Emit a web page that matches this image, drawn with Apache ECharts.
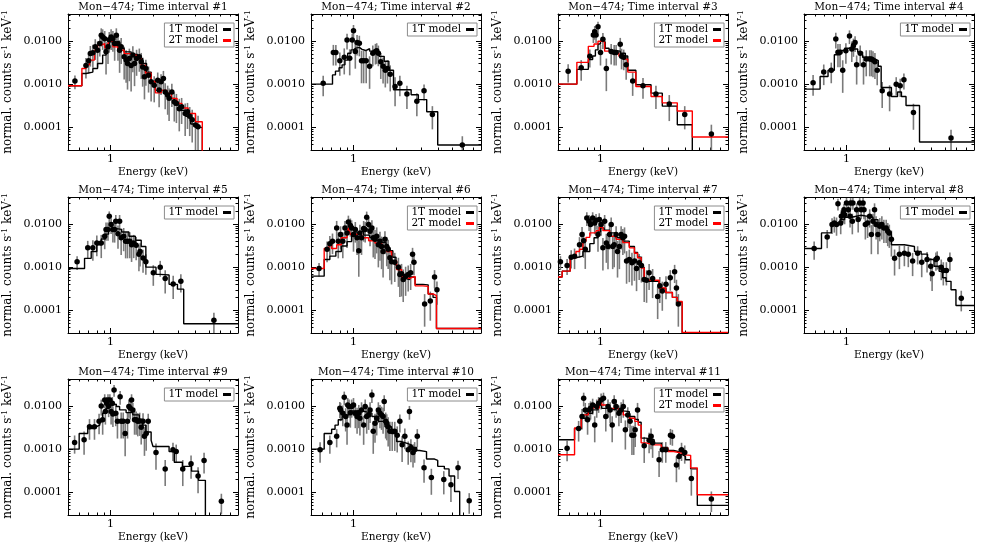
<!DOCTYPE html>
<html><head><meta charset="utf-8">
<script src="https://cdn.jsdelivr.net/npm/echarts@6.0.0/dist/echarts.min.js"></script>
<style>html,body{margin:0;padding:0;background:#fff}#c{width:981px;height:545px}</style>
</head><body><div id="c"></div>
<script>
// ---------- DATA: [energy keV, normalized counts, relative error] ----------
const TITLES = ['Mon\u2212474; Time interval #1','Mon\u2212474; Time interval #2','Mon\u2212474; Time interval #3','Mon\u2212474; Time interval #4','Mon\u2212474; Time interval #5','Mon\u2212474; Time interval #6','Mon\u2212474; Time interval #7','Mon\u2212474; Time interval #8','Mon\u2212474; Time interval #9','Mon\u2212474; Time interval #10','Mon\u2212474; Time interval #11'];
const LEGEND_NAMES = ['1T model','2T model'];
const X_LABELS = [1];
const X_MAJOR = [1];
const X_MINOR = [0.6,0.7,0.8,0.9,2,3,4,5,6,7];
const Y_LABELS = [0.0001,0.001,0.01];
const Y_MINOR = [0.00004,0.00005,0.00006,0.00007,0.00008,0.00009,0.0002,0.0003,0.0004,0.0005,0.0006,0.0007,0.0008,0.0009,0.002,0.003,0.004,0.005,0.006,0.007,0.008,0.009,0.02,0.03,0.04];

const P1_DATA = [[0.56,0.00118,0.35],[0.67,0.0027,0.5],[0.70,0.0035,0.5],[0.72,0.0051,0.5],[0.75,0.0053,0.55],[0.78,0.0073,0.5],[0.81,0.0061,0.6],[0.84,0.0087,0.5],[0.86,0.0135,0.45],[0.88,0.0124,0.5],[0.91,0.0113,0.5],[0.93,0.0056,0.7],[0.96,0.0073,0.6],[0.98,0.0107,0.5],[1.01,0.0124,0.5],[1.04,0.0113,0.5],[1.07,0.0087,0.6],[1.10,0.0135,0.45],[1.13,0.0087,0.6],[1.16,0.0061,0.7],[1.19,0.0073,0.6],[1.25,0.0043,0.7],[1.29,0.0036,0.7],[1.32,0.0030,0.75],[1.36,0.0039,0.7],[1.40,0.0027,0.75],[1.44,0.0047,0.6],[1.48,0.0030,0.7],[1.53,0.0039,0.6],[1.60,0.0043,0.55],[1.65,0.0033,0.6],[1.69,0.0025,0.65],[1.74,0.00148,0.7],[1.78,0.0023,0.6],[1.86,0.0016,0.6],[1.94,0.00113,0.65],[2.04,0.00095,0.6],[2.16,0.00124,0.5],[2.21,0.00073,0.6],[2.28,0.00113,0.5],[2.37,0.00135,0.5],[2.44,0.00066,0.6],[2.54,0.00056,0.65],[2.60,0.00047,0.7],[2.72,0.00066,0.55],[2.83,0.00039,0.65],[2.93,0.00036,0.65],[3.07,0.00027,0.7],[3.19,0.00030,0.6],[3.38,0.00021,0.7],[3.51,0.00023,0.6],[3.64,0.00018,0.65],[3.79,0.00015,0.7],[4.0,0.000113,0.75],[4.17,0.000103,0.8]];
const P1_1T = [[0.5,0.00092],[0.627,0.00176],[0.67,0.0019],[0.75,0.0023],[0.81,0.003],[0.88,0.0047],[0.93,0.0067],[0.98,0.0095],[1.04,0.008],[1.13,0.0067],[1.25,0.0056],[1.40,0.0049],[1.56,0.0039],[1.69,0.0030],[1.80,0.0019],[1.94,0.00115],[2.08,0.00072],[2.40,0.00061],[2.60,0.00047],[2.83,0.00033],[3.07,0.00025],[3.41,0.00018],[3.70,0.00012],[4.0,0.0001],[4.47,0.000001],[8,0.000001]];
const P1_2T = [[0.5,0.00092],[0.627,0.0023],[0.67,0.0028],[0.71,0.0036],[0.77,0.0061],[0.81,0.0080],[0.86,0.0087],[0.91,0.0070],[0.96,0.0087],[0.98,0.0098],[1.04,0.0073],[1.13,0.0061],[1.25,0.0051],[1.40,0.0047],[1.52,0.0039],[1.65,0.0027],[1.77,0.0018],[1.94,0.00115],[2.08,0.00063],[2.29,0.00072],[2.5,0.00061],[2.7,0.00047],[2.96,0.00036],[3.2,0.00028],[3.55,0.00021],[4.0,0.000135],[4.47,0.000001],[8,0.000001]];

const P2_DATA = [[0.61,0.00105,0.5],[0.72,0.0054,0.5],[0.75,0.0054,0.5],[0.80,0.0035,0.55],[0.86,0.0042,0.6],[0.90,0.0105,0.4],[0.94,0.0040,0.6],[0.98,0.0105,0.4],[1.0,0.0173,0.35],[1.03,0.0057,0.6],[1.06,0.0092,0.5],[1.10,0.0088,0.5],[1.14,0.0035,0.7],[1.18,0.0035,0.7],[1.23,0.0035,0.7],[1.30,0.0026,0.7],[1.37,0.0052,0.5],[1.43,0.0057,0.5],[1.46,0.0059,0.5],[1.50,0.0052,0.5],[1.56,0.0033,0.6],[1.62,0.0026,0.6],[1.68,0.0021,0.6],[1.74,0.0023,0.55],[1.82,0.0017,0.6],[1.97,0.00088,0.65],[2.13,0.00105,0.5],[2.39,0.00059,0.55],[2.81,0.0004,0.55],[3.16,0.0007,0.4],[3.62,0.0002,0.55],[5.9,0.000039,0.6]];
const P2_1T = [[0.5,0.001],[0.71,0.00164],[0.745,0.002],[0.79,0.0024],[0.83,0.0028],[0.87,0.0036],[0.91,0.0052],[0.96,0.0062],[1.0,0.0068],[1.04,0.0071],[1.10,0.0064],[1.15,0.006],[1.22,0.0066],[1.30,0.0058],[1.40,0.0052],[1.52,0.0044],[1.65,0.0034],[1.78,0.0021],[1.92,0.00074],[2.56,0.00057],[2.88,0.00044],[3.3,0.00023],[3.95,0.000039],[8,0.000039]];

const P3_DATA = [[0.59,0.0020,0.45],[0.73,0.0024,0.5],[0.84,0.0044,0.45],[0.89,0.0138,0.35],[0.91,0.0164,0.35],[0.93,0.0138,0.35],[0.96,0.0214,0.3],[1.0,0.0054,0.5],[1.04,0.0109,0.4],[1.10,0.0023,0.7],[1.19,0.0057,0.5],[1.25,0.0054,0.5],[1.29,0.0054,0.5],[1.38,0.0084,0.4],[1.41,0.0044,0.5],[1.46,0.0042,0.5],[1.52,0.0028,0.55],[1.69,0.00119,0.55],[2.0,0.00092,0.5],[2.47,0.00059,0.55],[3.07,0.00035,0.6],[3.95,0.0002,0.55],[6.1,0.00007,0.65]];
const P3_1T = [[0.5,0.001],[0.68,0.0022],[0.82,0.0037],[0.88,0.0045],[0.92,0.0062],[0.96,0.0085],[1.0,0.01],[1.04,0.0095],[1.08,0.0068],[1.15,0.006],[1.25,0.0058],[1.38,0.0052],[1.5,0.0045],[1.56,0.0021],[1.78,0.00097],[2.28,0.00062],[2.74,0.00031],[3.5,0.000115],[4.47,0.000001],[8,0.000001]];
const P3_2T = [[0.5,0.001],[0.68,0.0032],[0.82,0.0075],[0.90,0.0085],[0.96,0.0098],[1.02,0.0095],[1.07,0.0058],[1.2,0.0052],[1.35,0.0045],[1.46,0.0038],[1.56,0.0019],[1.78,0.00088],[2.28,0.00052],[2.74,0.00037],[3.5,0.00024],[4.47,0.00006],[8,0.00006]];

const P4_DATA = [[0.58,0.00108,0.5],[0.69,0.0019,0.5],[0.78,0.0021,0.5],[0.84,0.0111,0.4],[0.87,0.0055,0.55],[0.90,0.0055,0.55],[0.94,0.0021,0.7],[0.99,0.0059,0.5],[1.05,0.0130,0.35],[1.09,0.0065,0.5],[1.12,0.0078,0.45],[1.15,0.0092,0.4],[1.18,0.0028,0.65],[1.25,0.0052,0.5],[1.32,0.0028,0.65],[1.38,0.0038,0.6],[1.46,0.0038,0.6],[1.50,0.0038,0.6],[1.54,0.0036,0.6],[1.59,0.0033,0.6],[1.65,0.0021,0.55],[1.79,0.0007,0.6],[2.02,0.00059,0.6],[2.25,0.001,0.45],[2.40,0.00092,0.45],[2.55,0.00126,0.4],[2.98,0.00022,0.6],[5.5,0.000057,0.55]];
const P4_1T = [[0.5,0.00077],[0.65,0.0015],[0.74,0.0021],[0.82,0.0048],[0.9,0.006],[0.97,0.0068],[1.05,0.0074],[1.12,0.0065],[1.2,0.0055],[1.3,0.0042],[1.45,0.0038],[1.6,0.0035],[1.68,0.0026],[1.76,0.00084],[2.08,0.00052],[2.3,0.00066],[2.45,0.00052],[2.64,0.00032],[3.29,0.000046],[8,0.000046]];

const P5_DATA = [[0.58,0.00133,0.35],[0.69,0.0028,0.45],[0.75,0.0028,0.5],[0.80,0.0036,0.5],[0.86,0.0036,0.55],[0.91,0.0052,0.5],[0.93,0.0074,0.45],[0.96,0.0074,0.45],[0.98,0.0150,0.3],[1.01,0.0097,0.4],[1.04,0.0074,0.5],[1.07,0.0074,0.5],[1.09,0.0115,0.4],[1.13,0.0059,0.55],[1.16,0.0115,0.4],[1.19,0.0048,0.6],[1.24,0.0052,0.55],[1.28,0.0040,0.6],[1.32,0.0040,0.6],[1.37,0.0040,0.6],[1.41,0.0033,0.6],[1.46,0.0036,0.55],[1.52,0.0032,0.55],[1.59,0.0020,0.6],[1.62,0.0023,0.55],[1.70,0.00164,0.55],[1.78,0.00133,0.5],[2.01,0.00074,0.5],[2.25,0.001,0.4],[2.44,0.00055,0.55],[2.78,0.00041,0.55],[3.15,0.00047,0.45],[5.4,0.000059,0.5]];
const P5_1T = [[0.5,0.00093],[0.655,0.0016],[0.73,0.0023],[0.80,0.0033],[0.86,0.0045],[0.92,0.0058],[0.97,0.0072],[1.02,0.0078],[1.1,0.0075],[1.2,0.0065],[1.35,0.0052],[1.5,0.0042],[1.65,0.0030],[1.78,0.001],[2.1,0.00068],[2.25,0.00066],[2.6,0.0004],[2.98,0.00031],[3.3,0.000049],[8,0.000049]];

const P6_DATA = [[0.57,0.00093,0.35],[0.65,0.0026,0.5],[0.68,0.0035,0.5],[0.71,0.0040,0.5],[0.76,0.0081,0.45],[0.78,0.0040,0.6],[0.81,0.0057,0.55],[0.84,0.0040,0.6],[0.87,0.0081,0.45],[0.90,0.0062,0.55],[0.92,0.0111,0.4],[0.95,0.0092,0.45],[0.97,0.0081,0.5],[1.0,0.0057,0.6],[1.03,0.0074,0.5],[1.06,0.0048,0.6],[1.09,0.0024,0.75],[1.11,0.0062,0.55],[1.14,0.0048,0.6],[1.18,0.0078,0.5],[1.21,0.0074,0.5],[1.24,0.0143,0.35],[1.28,0.0097,0.45],[1.31,0.0068,0.55],[1.35,0.0081,0.5],[1.38,0.0048,0.65],[1.42,0.0044,0.65],[1.46,0.0052,0.6],[1.50,0.0033,0.7],[1.54,0.0040,0.65],[1.58,0.0030,0.7],[1.62,0.0023,0.75],[1.67,0.0044,0.55],[1.72,0.0030,0.65],[1.76,0.0026,0.65],[1.81,0.00165,0.7],[1.86,0.00133,0.7],[1.96,0.0013,0.65],[2.08,0.001,0.65],[2.13,0.00068,0.7],[2.19,0.0007,0.7],[2.25,0.00052,0.7],[2.34,0.00062,0.65],[2.44,0.00068,0.6],[2.54,0.00074,0.6],[2.62,0.0020,0.4],[2.68,0.0013,0.5],[3.19,0.00014,0.7],[3.5,0.000165,0.65],[3.75,0.00059,0.45],[3.9,0.0003,0.55]];
const P6_1T = [[0.5,0.00062],[0.62,0.0015],[0.68,0.0018],[0.75,0.0023],[0.82,0.0031],[0.90,0.0039],[0.97,0.0052],[1.03,0.0062],[1.10,0.0068],[1.18,0.0055],[1.30,0.0049],[1.45,0.0042],[1.58,0.0037],[1.70,0.0029],[1.80,0.0024],[1.90,0.0017],[2.0,0.0011],[2.10,0.00075],[2.19,0.00055],[2.31,0.00052],[2.50,0.00059],[2.73,0.0004],[3.10,0.00039],[3.38,0.00024],[3.66,0.0002],[3.87,0.000038],[8,0.000038]];
const P6_2T = [[0.5,0.00093],[0.62,0.0027],[0.67,0.0036],[0.70,0.0027],[0.76,0.0033],[0.82,0.0048],[0.90,0.0062],[0.92,0.0081],[0.95,0.0057],[1.03,0.0059],[1.14,0.0048],[1.28,0.0041],[1.42,0.0036],[1.58,0.0030],[1.72,0.0023],[1.86,0.0014],[2.02,0.00088],[2.19,0.00059],[2.31,0.00055],[2.50,0.00061],[2.73,0.00037],[3.10,0.00036],[3.38,0.00024],[3.66,0.00022],[3.87,0.000038],[8,0.000038]];

const P7_DATA = [[0.52,0.00133,0.35],[0.58,0.0011,0.4],[0.62,0.0017,0.45],[0.655,0.0018,0.5],[0.71,0.0033,0.5],[0.74,0.0057,0.5],[0.76,0.0041,0.6],[0.78,0.0026,0.65],[0.80,0.0138,0.35],[0.83,0.0115,0.4],[0.85,0.0097,0.45],[0.88,0.0138,0.35],[0.91,0.0105,0.45],[0.93,0.0122,0.4],[0.96,0.0057,0.6],[0.98,0.0126,0.4],[1.01,0.0097,0.45],[1.04,0.0028,0.7],[1.07,0.0115,0.4],[1.10,0.0036,0.65],[1.13,0.0030,0.7],[1.16,0.0057,0.55],[1.19,0.0097,0.45],[1.22,0.0030,0.7],[1.25,0.0033,0.7],[1.29,0.0057,0.55],[1.32,0.0023,0.75],[1.36,0.0030,0.7],[1.40,0.0057,0.55],[1.44,0.0048,0.6],[1.48,0.0052,0.6],[1.53,0.00138,0.7],[1.60,0.0015,0.7],[1.67,0.00126,0.7],[1.74,0.00138,0.65],[1.80,0.00093,0.7],[1.88,0.00126,0.6],[1.95,0.0011,0.6],[2.04,0.00052,0.7],[2.12,0.0005,0.7],[2.21,0.00074,0.6],[2.34,0.00055,0.65],[2.54,0.00021,0.7],[2.63,0.00037,0.6],[2.74,0.00028,0.65],[2.91,0.0004,0.55],[3.12,0.00057,0.5],[3.35,0.00078,0.45],[3.45,0.00033,0.55],[3.56,0.00014,0.7]];
const P7_1T = [[0.5,0.00059],[0.535,0.00081],[0.61,0.00165],[0.67,0.0018],[0.75,0.0023],[0.84,0.0035],[0.9,0.0048],[0.96,0.0065],[1.0,0.0081],[1.06,0.0072],[1.16,0.0062],[1.29,0.0048],[1.44,0.0040],[1.6,0.0030],[1.74,0.0022],[1.83,0.0017],[1.94,0.001],[2.04,0.00047],[2.6,0.00032],[2.9,0.00026],[3.23,0.0002],[3.5,0.000155],[3.79,0.000001],[8,0.000001]];
const P7_2T = [[0.5,0.00059],[0.535,0.00081],[0.61,0.00165],[0.67,0.0023],[0.71,0.0026],[0.75,0.0040],[0.79,0.0049],[0.84,0.0062],[0.93,0.0070],[0.98,0.0084],[1.04,0.0070],[1.16,0.0052],[1.29,0.0044],[1.44,0.0037],[1.6,0.0028],[1.74,0.0021],[1.83,0.00165],[1.94,0.00096],[2.04,0.0005],[2.6,0.00033],[2.9,0.00026],[3.23,0.0002],[3.5,0.00016],[3.79,0.000031],[8,0.000031]];

const P8_DATA = [[0.59,0.0027,0.45],[0.73,0.0050,0.45],[0.79,0.0097,0.4],[0.82,0.0105,0.4],[0.85,0.0097,0.45],[0.87,0.0294,0.3],[0.91,0.0105,0.45],[0.92,0.015,0.4],[0.95,0.0179,0.4],[0.96,0.0214,0.35],[0.97,0.0164,0.4],[1.0,0.0305,0.3],[1.03,0.0214,0.35],[1.06,0.015,0.45],[1.07,0.0305,0.3],[1.10,0.0115,0.5],[1.11,0.0305,0.3],[1.18,0.0214,0.4],[1.21,0.0126,0.5],[1.24,0.0305,0.3],[1.27,0.0214,0.4],[1.31,0.0305,0.3],[1.33,0.0214,0.4],[1.36,0.0097,0.55],[1.41,0.0105,0.55],[1.46,0.015,0.45],[1.50,0.0057,0.65],[1.54,0.0115,0.5],[1.58,0.0214,0.4],[1.62,0.0097,0.55],[1.67,0.0057,0.65],[1.72,0.0088,0.55],[1.78,0.0097,0.55],[1.84,0.0081,0.55],[1.91,0.0081,0.55],[1.96,0.0068,0.55],[2.01,0.0062,0.55],[2.08,0.0044,0.6],[2.19,0.0016,0.6],[2.37,0.0020,0.55],[2.57,0.0021,0.5],[2.74,0.0020,0.5],[2.94,0.00138,0.55],[3.19,0.0021,0.45],[3.41,0.0013,0.55],[3.72,0.0015,0.5],[3.95,0.00105,0.55],[4.04,0.0007,0.6],[4.3,0.0015,0.45],[4.39,0.0016,0.45],[4.69,0.001,0.5],[4.85,0.00084,0.55],[5.1,0.00084,0.55],[5.4,0.0015,0.45],[6.5,0.00019,0.5]];
const P8_1T = [[0.5,0.0027],[0.665,0.0062],[0.78,0.0097],[0.90,0.0126],[0.97,0.0143],[1.09,0.0159],[1.27,0.015],[1.42,0.0143],[1.54,0.0126],[1.67,0.0105],[1.81,0.0081],[1.96,0.0057],[2.08,0.0033],[2.57,0.0030],[3.03,0.0023],[3.38,0.002],[3.75,0.0015],[4.17,0.00105],[4.53,0.0008],[4.8,0.00057],[5.07,0.00047],[5.5,0.0003],[5.96,0.00013],[8,0.00013]];

const P9_DATA = [[0.557,0.00143,0.45],[0.65,0.00165,0.55],[0.71,0.0033,0.5],[0.77,0.0033,0.5],[0.83,0.0044,0.5],[0.86,0.01,0.4],[0.88,0.0048,0.55],[0.91,0.0138,0.35],[0.92,0.0074,0.5],[0.94,0.0115,0.4],[0.96,0.0138,0.35],[0.97,0.01,0.45],[0.99,0.0138,0.35],[1.01,0.0074,0.5],[1.03,0.0115,0.4],[1.04,0.0065,0.5],[1.06,0.0234,0.3],[1.09,0.0068,0.5],[1.12,0.0044,0.6],[1.17,0.0164,0.35],[1.19,0.0044,0.6],[1.23,0.0044,0.6],[1.27,0.0023,0.7],[1.32,0.0044,0.6],[1.35,0.0097,0.45],[1.38,0.0088,0.45],[1.41,0.0138,0.35],[1.44,0.0081,0.45],[1.48,0.0048,0.55],[1.52,0.0048,0.55],[1.56,0.0044,0.55],[1.61,0.0045,0.55],[1.65,0.0032,0.6],[1.70,0.0044,0.55],[1.74,0.0020,0.65],[1.79,0.0023,0.6],[1.85,0.0044,0.5],[2.1,0.00084,0.6],[2.44,0.00035,0.6],[2.77,0.00097,0.45],[2.92,0.00088,0.45],[3.25,0.00035,0.6],[3.72,0.00046,0.55],[4.17,0.00024,0.6],[4.6,0.00055,0.5],[6.1,0.000062,0.5]];
const P9_1T = [[0.5,0.001],[0.60,0.0023],[0.69,0.003],[0.75,0.0033],[0.79,0.0036],[0.84,0.0048],[0.88,0.0068],[0.93,0.0088],[0.98,0.0105],[1.04,0.011],[1.10,0.0097],[1.16,0.0081],[1.29,0.007],[1.44,0.0062],[1.6,0.0049],[1.69,0.0036],[1.78,0.0025],[1.94,0.0016],[2.0,0.00115],[2.6,0.00088],[2.83,0.0005],[3.23,0.0004],[3.75,0.00031],[4.2,0.00019],[4.7,0.000001],[8,0.000001]];

const P10_DATA = [[0.58,0.00097,0.5],[0.68,0.00143,0.45],[0.76,0.0020,0.45],[0.80,0.0088,0.4],[0.81,0.0081,0.45],[0.84,0.0068,0.5],[0.86,0.0159,0.35],[0.88,0.0057,0.55],[0.90,0.0036,0.65],[0.91,0.0105,0.45],[0.93,0.0097,0.45],[0.95,0.0070,0.55],[0.97,0.0097,0.45],[1.0,0.0105,0.45],[1.03,0.0068,0.55],[1.06,0.0057,0.6],[1.09,0.0068,0.55],[1.11,0.0052,0.6],[1.14,0.0081,0.5],[1.18,0.0036,0.65],[1.21,0.0097,0.45],[1.24,0.0057,0.6],[1.28,0.0062,0.55],[1.31,0.0081,0.5],[1.35,0.0179,0.35],[1.38,0.0026,0.7],[1.42,0.004,0.65],[1.46,0.0052,0.6],[1.50,0.0081,0.5],[1.54,0.0068,0.55],[1.58,0.0062,0.55],[1.62,0.0057,0.6],[1.65,0.0126,0.4],[1.69,0.0044,0.6],[1.72,0.004,0.6],[1.76,0.0033,0.65],[1.81,0.0026,0.65],[1.88,0.0026,0.65],[1.96,0.0026,0.65],[2.04,0.0021,0.6],[2.13,0.0044,0.45],[2.21,0.00126,0.6],[2.31,0.0020,0.5],[2.44,0.00097,0.55],[2.49,0.0074,0.35],[2.55,0.0011,0.55],[2.64,0.00084,0.55],[2.71,0.00097,0.5],[2.83,0.0020,0.45],[3.16,0.00037,0.55],[3.56,0.00022,0.6],[4.36,0.0002,0.55],[4.9,0.00015,0.6],[5.5,0.00037,0.45],[6.6,0.000064,0.5]];
const P10_1T = [[0.5,0.001],[0.62,0.0023],[0.70,0.0029],[0.74,0.0036],[0.78,0.0048],[0.83,0.0057],[0.87,0.0062],[0.92,0.0068],[0.97,0.0077],[1.03,0.0078],[1.09,0.0074],[1.21,0.0068],[1.35,0.0057],[1.50,0.0044],[1.67,0.0033],[1.86,0.0023],[2.02,0.0015],[2.19,0.00138],[2.37,0.00126],[2.57,0.0011],[2.80,0.00093],[2.94,0.00088],[3.29,0.00059],[3.75,0.00055],[3.95,0.0004],[4.4,0.00035],[4.75,0.00024],[5.2,0.000105],[5.65,0.000001],[8,0.000001]];

const P11_DATA = [[0.58,0.00105,0.5],[0.70,0.0030,0.5],[0.74,0.0057,0.5],[0.76,0.015,0.35],[0.78,0.0081,0.45],[0.81,0.0048,0.55],[0.83,0.0081,0.45],[0.85,0.0088,0.45],[0.88,0.0105,0.4],[0.91,0.0036,0.6],[0.94,0.0097,0.45],[0.97,0.0115,0.4],[1.01,0.0138,0.4],[1.05,0.015,0.35],[1.09,0.0057,0.55],[1.13,0.0097,0.45],[1.17,0.0081,0.5],[1.21,0.0036,0.6],[1.25,0.0126,0.4],[1.29,0.0097,0.45],[1.35,0.0068,0.5],[1.40,0.0081,0.5],[1.45,0.0097,0.45],[1.50,0.0028,0.65],[1.56,0.0062,0.5],[1.62,0.0044,0.55],[1.67,0.0021,0.65],[1.72,0.0021,0.65],[1.76,0.0028,0.6],[1.83,0.0081,0.45],[2.04,0.0012,0.6],[2.21,0.0016,0.5],[2.28,0.002,0.5],[2.34,0.0014,0.55],[2.6,0.00057,0.6],[2.74,0.00097,0.5],[2.9,0.00097,0.5],[3.13,0.0021,0.4],[3.23,0.002,0.4],[3.45,0.00043,0.6],[3.6,0.00068,0.5],[3.75,0.00097,0.45],[3.95,0.00084,0.45],[4.4,0.00021,0.6],[6.1,0.00007,0.5]];
const P11_1T = [[0.5,0.00165],[0.655,0.003],[0.73,0.0052],[0.80,0.0068],[0.88,0.0081],[0.96,0.0105],[1.02,0.0088],[1.15,0.0081],[1.3,0.0077],[1.45,0.0074],[1.6,0.0057],[1.75,0.0049],[1.85,0.0042],[1.94,0.0018],[2.1,0.00165],[2.4,0.00138],[2.7,0.0011],[3.0,0.00093],[3.3,0.00088],[3.6,0.00075],[3.8,0.00068],[4.0,0.00057],[4.35,0.00035],[4.85,0.00005],[8,0.00005]];
const P11_2T = [[0.5,0.00074],[0.655,0.0031],[0.73,0.0062],[0.82,0.0088],[0.88,0.0095],[0.93,0.0088],[0.98,0.0143],[1.02,0.0105],[1.15,0.0088],[1.3,0.0081],[1.45,0.0062],[1.6,0.0052],[1.75,0.0044],[1.85,0.0036],[1.94,0.0014],[2.1,0.00126],[2.4,0.00126],[2.7,0.00105],[3.0,0.00088],[3.3,0.00084],[3.6,0.0008],[3.8,0.00074],[4.0,0.00072],[4.35,0.00037],[4.85,0.000088],[8,0.000088]];

const PANEL_DATA = [P1_DATA,P2_DATA,P3_DATA,P4_DATA,P5_DATA,P6_DATA,P7_DATA,P8_DATA,P9_DATA,P10_DATA,P11_DATA];
const PANEL_MODELS = [[P1_1T,P1_2T],[P2_1T],[P3_1T,P3_2T],[P4_1T],[P5_1T],[P6_1T,P6_2T],[P7_1T,P7_2T],[P8_1T],[P9_1T],[P10_1T],[P11_1T,P11_2T]];

// ---------- LAYOUT / STYLE ----------
const X_MIN = 0.5, X_MAX = 8, Y_MIN = 0.00003, Y_MAX = 0.042;
const COL_LEFT = [68, 311, 558, 804], ROW_TOP = [14, 197, 379], W = 170, H = 136;
const FONT = 'DejaVu Serif';
const MODEL_COLORS = ['#000000', '#ff0000'];

const grids = [], xAxes = [], yAxes = [], series = [], titles = [], legends = [];
const axLine = {show: true, onZero: false, lineStyle: {color: '#000', width: 1}};
const tickStyle = {color: '#000', width: 1};

function errRender(params, api) {
  const e = api.value(0), v = api.value(1), r = api.value(2);
  const lo = Math.max(v * (1 - r), 1e-7), hi = v * (1 + r);
  const pLo = api.coord([e, lo]), pHi = api.coord([e, hi]);
  return {type: 'line', shape: {x1: pLo[0], y1: pLo[1], x2: pHi[0], y2: pHi[1]},
          style: {stroke: '#7a7a7a', lineWidth: 1.6}};
}

PANEL_DATA.forEach((data, i) => {
  const col = i % 4, row = Math.floor(i / 4);
  const left = COL_LEFT[col], top = ROW_TOP[row];
  grids.push({left: left, top: top, width: W, height: H});
  const xb = {type: 'log', logBase: 10, gridIndex: i, min: X_MIN, max: X_MAX, splitLine: {show: false}};
  const yb = {type: 'log', logBase: 10, gridIndex: i, min: Y_MIN, max: Y_MAX, splitLine: {show: false}};
  xAxes.push(Object.assign({}, xb, {position: 'bottom', axisLine: axLine,
    axisTick: {inside: true, length: 5, customValues: X_MAJOR, lineStyle: tickStyle},
    axisLabel: {customValues: X_LABELS, formatter: v => String(Math.round(v * 100) / 100), fontFamily: FONT, fontSize: 11, color: '#000', margin: 4},
    name: 'Energy (keV)', nameLocation: 'middle', nameGap: 17,
    nameTextStyle: {fontFamily: FONT, fontSize: 10.5, color: '#000'}}));
  xAxes.push(Object.assign({}, xb, {position: 'bottom', axisLine: {show: false},
    axisTick: {inside: true, length: 2.5, customValues: X_MINOR, lineStyle: tickStyle}, axisLabel: {show: false}}));
  xAxes.push(Object.assign({}, xb, {position: 'top', axisLine: axLine,
    axisTick: {inside: true, length: 5, customValues: X_MAJOR, lineStyle: tickStyle}, axisLabel: {show: false}}));
  xAxes.push(Object.assign({}, xb, {position: 'top', axisLine: {show: false},
    axisTick: {inside: true, length: 2.5, customValues: X_MINOR, lineStyle: tickStyle}, axisLabel: {show: false}}));

  yAxes.push(Object.assign({}, yb, {position: 'left', axisLine: axLine,
    axisTick: {inside: true, length: 5, customValues: Y_LABELS, lineStyle: tickStyle},
    axisLabel: {customValues: Y_LABELS, formatter: v => v.toFixed(4), fontFamily: FONT, fontSize: 11, color: '#000', margin: 6},
    name: 'normal. counts s{sup|-1} keV{sup|-1}', nameLocation: 'middle', nameGap: 53,
    nameTextStyle: {fontFamily: FONT, fontSize: 12, color: '#000', lineHeight: 14,
      rich: {sup: {fontFamily: FONT, fontSize: 8, color: '#000', verticalAlign: 'top', lineHeight: 9}}}}));
  yAxes.push(Object.assign({}, yb, {position: 'left', axisLine: {show: false},
    axisTick: {inside: true, length: 2.5, customValues: Y_MINOR, lineStyle: tickStyle}, axisLabel: {show: false}}));
  yAxes.push(Object.assign({}, yb, {position: 'right', axisLine: axLine,
    axisTick: {inside: true, length: 5, customValues: Y_LABELS, lineStyle: tickStyle}, axisLabel: {show: false}}));
  yAxes.push(Object.assign({}, yb, {position: 'right', axisLine: {show: false},
    axisTick: {inside: true, length: 2.5, customValues: Y_MINOR, lineStyle: tickStyle}, axisLabel: {show: false}}));

  const xi = 4 * i, yi = 4 * i;
  series.push({type: 'custom', xAxisIndex: xi, yAxisIndex: yi, data: data, renderItem: errRender,
    encode: {x: 0, y: 1}, clip: true, silent: true, z: 1});
  const models = PANEL_MODELS[i];
  models.forEach((m, k) => {
    series.push({type: 'line', name: LEGEND_NAMES[k], xAxisIndex: xi, yAxisIndex: yi, data: m, step: 'end',
      showSymbol: false, symbol: 'none', color: MODEL_COLORS[k], clip: true, silent: true,
      lineStyle: {color: MODEL_COLORS[k], width: 1.4}, z: 2 + k});
  });
  series.push({type: 'scatter', xAxisIndex: xi, yAxisIndex: yi, data: data, encode: {x: 0, y: 1},
    symbol: 'circle', symbolSize: 5.5, itemStyle: {color: '#000', opacity: 1}, clip: true, silent: true, z: 5});

  titles.push({text: TITLES[i], left: left + W / 2, top: top - 12, textAlign: 'center', padding: 0,
    textStyle: {fontFamily: FONT, fontSize: 10.5, fontWeight: 'normal', color: '#000'}});
  legends.push({orient: 'vertical', right: 981 - (left + W - 4), top: top + 9, align: 'right',
    icon: 'rect', itemWidth: 8, itemHeight: 3, itemGap: 0, selectedMode: false,
    data: LEGEND_NAMES.slice(0, models.length),
    borderColor: '#8c8c8c', borderWidth: 1, borderRadius: 0, padding: [1, 3, 1, 4], backgroundColor: '#fff',
    textStyle: {fontFamily: FONT, fontSize: 10.5, color: '#000', lineHeight: 11}});
});

const chart = echarts.init(document.getElementById('c'), null, {renderer: 'canvas'});
chart.setOption({
  animation: false, backgroundColor: '#fff',
  title: titles, legend: legends, grid: grids, xAxis: xAxes, yAxis: yAxes, series: series
});
</script></body></html>
